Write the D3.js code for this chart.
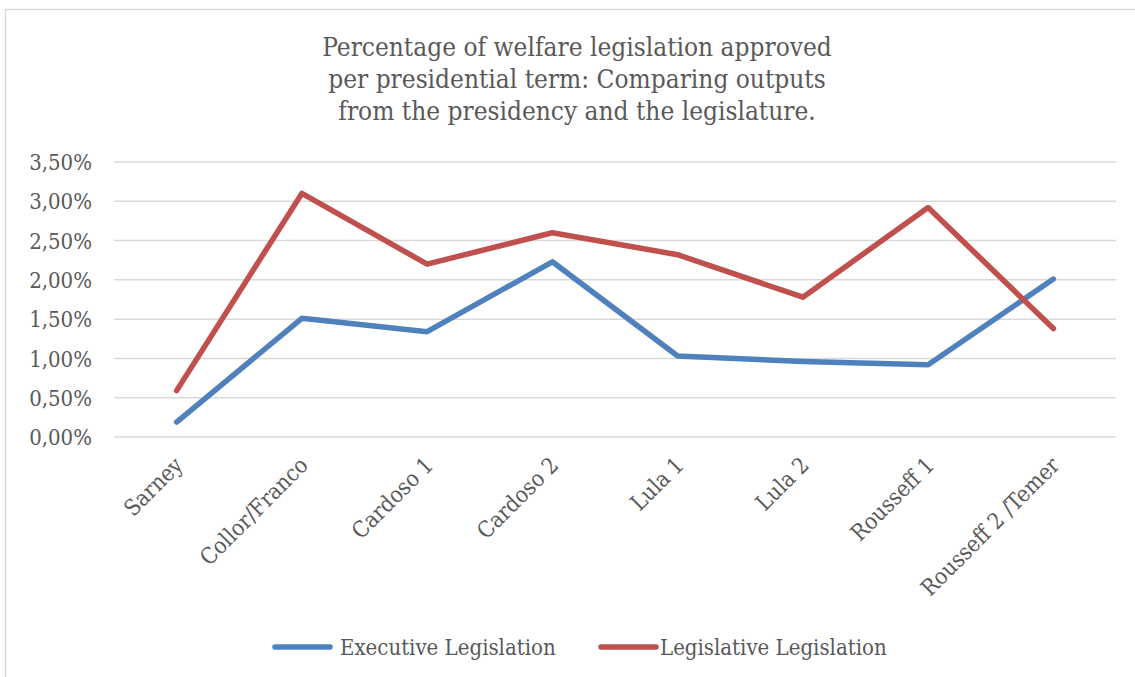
<!DOCTYPE html>
<html><head><meta charset="utf-8">
<script src="https://cdn.jsdelivr.net/npm/d3@7"></script>
<style>
html,body{margin:0;padding:0;background:#fff;}
svg{display:block;}
text{font-family:"DejaVu Serif","Liberation Serif",serif;font-stretch:condensed;fill:#595959;}
</style></head><body>
<svg id="chart" width="1135" height="677"></svg>
<script>
const categories = ["Sarney","Collor/Franco","Cardoso 1","Cardoso 2","Lula 1","Lula 2","Rousseff 1","Rousseff 2 /Temer"];
const executive = [0.0019,0.0151,0.0134,0.0223,0.0103,0.0096,0.0092,0.0201];
const legislative = [0.0059,0.0310,0.0220,0.0260,0.0232,0.0178,0.0292,0.0138];
const yTicks = [0,0.005,0.01,0.015,0.02,0.025,0.03,0.035];
const seriesNames = ["Executive Legislation","Legislative Legislation"];
const colors = ["#4F81BD","#C0504D"];
const titleLines = ["Percentage of welfare legislation approved","per presidential term: Comparing outputs","from the presidency and the legislature."];

const svg = d3.select("#chart");
svg.append("rect").attr("x",5.5).attr("y",9.5).attr("width",1140).attr("height",680)
  .attr("fill","none").attr("stroke","#D9D9D9").attr("stroke-width",1.5);

const pLeft=114, pRight=1116, pTop=162, pBottom=437;
const x = d3.scaleBand().domain(categories).range([pLeft,pRight]);
const y = d3.scaleLinear().domain([0,0.035]).range([pBottom,pTop]);
const fmt = v => d3.format(".2f")(v*100).replace(".",",")+"%";

// gridlines
svg.append("g").selectAll("line").data(yTicks).join("line")
  .attr("x1",pLeft).attr("x2",pRight).attr("y1",d=>y(d)).attr("y2",d=>y(d))
  .attr("stroke","#D9D9D9").attr("stroke-width",1.5);

// y axis labels
const yAxis = d3.axisLeft(y).tickValues(yTicks).tickFormat(fmt).tickSize(0).tickPadding(0);
const gy = svg.append("g").attr("transform",`translate(${pLeft-22},0)`).call(yAxis);
gy.select(".domain").remove();
gy.selectAll("text").attr("font-size",22).attr("dy","0.35em")
  .style("font-family","'DejaVu Serif','Liberation Serif',serif").style("fill","#595959");

// x axis labels
const xAxis = d3.axisBottom(x).tickSize(0).tickPadding(0);
const gx = svg.append("g").attr("transform",`translate(0,${pBottom})`).call(xAxis);
gx.select(".domain").remove();
gx.selectAll("text").attr("font-size",22.5).attr("text-anchor","end")
  .attr("transform","translate(2,24) rotate(-45)").attr("dy","0.35em").attr("y",0)
  .style("font-family","'DejaVu Serif','Liberation Serif',serif").style("fill","#595959");

// lines
const line = d3.line().x((d,i)=>x(categories[i])+x.bandwidth()/2).y(d=>y(d));
[executive,legislative].forEach((s,k)=>{
  svg.append("path").datum(s).attr("d",line).attr("fill","none")
    .attr("stroke",colors[k]).attr("stroke-width",5.5)
    .attr("stroke-linejoin","round").attr("stroke-linecap","round");
});

// title
svg.append("text").attr("x",577).attr("y",56).attr("text-anchor","middle").attr("font-size",26)
  .selectAll("tspan").data(titleLines).join("tspan")
  .attr("x",577).attr("dy",(d,i)=>i===0?0:32).text(d=>d);

// legend
const legX = [275,601];
seriesNames.forEach((n,k)=>{
  const g = svg.append("g").attr("transform",`translate(${legX[k]},647)`);
  g.append("line").attr("x1",0).attr("x2",55).attr("y1",0).attr("y2",0)
    .attr("stroke",colors[k]).attr("stroke-width",5.5).attr("stroke-linecap","round");
  g.append("text").attr("x",k===0?65:59).attr("y",0).attr("dy","0.35em").attr("font-size",22).text(n);
});
</script></body></html>
